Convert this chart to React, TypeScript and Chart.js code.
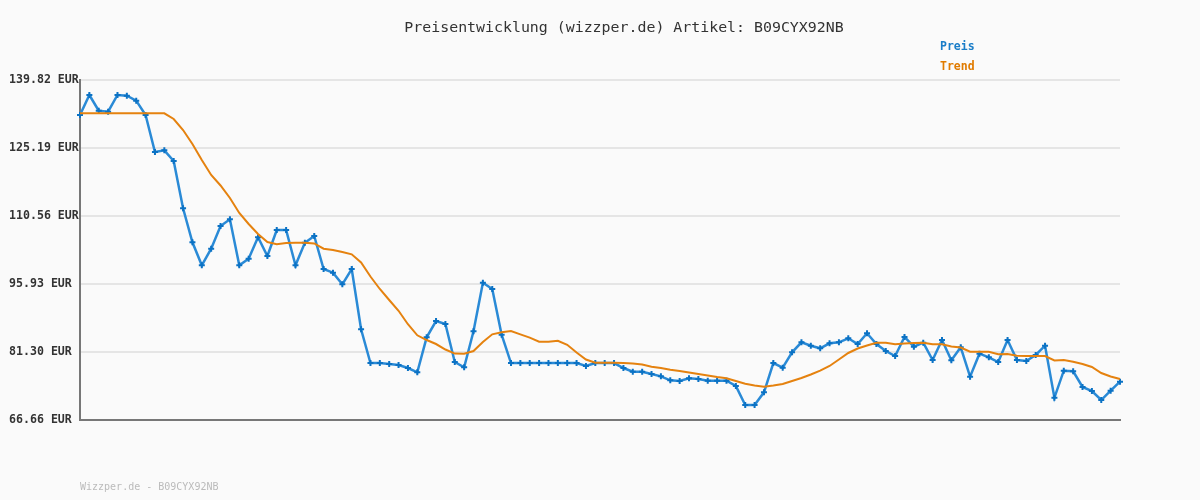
import React, { useEffect, useRef } from "react";
import { Chart, registerables } from "chart.js";

Chart.register(...registerables);

const TITLE = "Preisentwicklung (wizzper.de) Artikel: B09CYX92NB";
const FOOTER = "Wizzper.de - B09CYX92NB";
const LEGEND_LABELS = ["Preis", "Trend"];

const Y_TICKS = [66.66, 81.3, 95.93, 110.56, 125.19, 139.82];
const Y_TICK_LABELS = ["66.66 EUR", "81.30 EUR", "95.93 EUR", "110.56 EUR", "125.19 EUR", "139.82 EUR"];

const PREIS = [
  132.29, 136.59, 133.21, 133.0, 136.59, 136.44, 135.37, 132.29, 124.33, 124.69,
  122.39, 112.21, 104.9, 99.95, 103.52, 108.4, 109.85, 99.95, 101.37, 105.97,
  101.95, 107.54, 107.54, 99.95, 104.81, 106.25, 99.15, 98.36, 95.86, 99.15,
  86.18, 78.92, 78.92, 78.71, 78.49, 77.85, 76.92, 84.45, 87.96, 87.32,
  79.14, 78.0, 85.75, 96.2, 94.85, 85.01, 78.92, 78.92, 78.92, 78.92,
  78.92, 78.92, 78.92, 78.92, 78.28, 78.92, 78.92, 78.92, 77.85, 77.05,
  77.05, 76.56, 76.06, 75.2, 75.05, 75.63, 75.48, 75.12, 75.12, 75.12,
  73.98, 69.89, 69.89, 72.62, 78.92, 77.91, 81.23, 83.38, 82.65, 82.09,
  83.16, 83.38, 84.24, 83.01, 85.32, 83.01, 81.51, 80.43, 84.52, 82.43,
  83.29, 79.57, 83.87, 79.5, 82.3, 75.98, 80.93, 80.15, 79.14, 83.87,
  79.57, 79.36, 80.65, 82.65, 71.46, 77.27, 77.14, 73.76, 72.9, 70.96,
  72.96, 74.9,
];

const TREND = [
  132.66, 132.66, 132.66, 132.66, 132.66, 132.66, 132.66, 132.66, 132.66, 132.66,
  131.43, 129.06, 126.05, 122.61, 119.38, 117.12, 114.43, 111.2, 108.83, 106.68,
  104.96, 104.47, 104.75, 104.81, 104.81, 104.64, 103.52, 103.24, 102.81, 102.31,
  100.55, 97.54, 94.85, 92.48, 90.16, 87.27, 84.89, 83.87, 83.01, 81.83,
  80.95, 80.93, 81.51, 83.44, 85.1, 85.53, 85.81, 85.08, 84.39, 83.51,
  83.51, 83.72, 82.84, 81.18, 79.68, 78.99, 78.99, 78.99, 78.92, 78.82,
  78.6, 78.13, 77.85, 77.48, 77.2, 76.88, 76.56, 76.24, 75.91, 75.63,
  75.05, 74.47, 74.08, 73.83, 74.08, 74.41, 75.05, 75.7, 76.45, 77.27,
  78.28, 79.68, 81.08, 82.04, 82.69, 83.29, 83.29, 82.95, 83.12, 83.23,
  83.29, 82.95, 82.95, 82.48, 82.26, 81.36, 81.36, 81.36, 80.8, 80.86,
  80.5, 80.43, 80.43, 80.43, 79.46, 79.57, 79.21, 78.71, 78.06, 76.77,
  76.02, 75.48,
];

const CATEGORIES = PREIS.map((_, i) => String(i + 1));

const MONO = "'DejaVu Sans Mono', 'Liberation Mono', monospace";
const COLOR_PREIS = "#2a8ad6";
const COLOR_PREIS_POINT = "#0b72c4";
const COLOR_TREND = "#e5820f";
const COLOR_LEGEND_PREIS = "#1a7dc8";
const COLOR_LEGEND_TREND = "#e07b00";

const decor = {
  id: "decor",
  beforeDraw(chart: any) {
    const ctx = chart.ctx;
    ctx.save();
    ctx.fillStyle = "#fafafa";
    ctx.fillRect(0, 0, chart.width, chart.height);
    ctx.restore();
  },
  afterDraw(chart: any) {
    const ctx = chart.ctx;
    ctx.save();
    ctx.textBaseline = "middle";
    ctx.fillStyle = "#333333";
    ctx.font = `14.9px ${MONO}`;
    ctx.textAlign = "center";
    ctx.fillText(TITLE, 624, 28);

    ctx.textAlign = "left";
    ctx.font = `bold 11.5px ${MONO}`;
    ctx.fillStyle = COLOR_LEGEND_PREIS;
    ctx.fillText(LEGEND_LABELS[0], 940, 47);
    ctx.fillStyle = COLOR_LEGEND_TREND;
    ctx.fillText(LEGEND_LABELS[1], 940, 67);

    ctx.font = `10px ${MONO}`;
    ctx.fillStyle = "#bbbbbb";
    ctx.fillText(FOOTER, 80, 487);
    ctx.restore();
  },
};

export default function App() {
  const ref = useRef<HTMLCanvasElement | null>(null);

  useEffect(() => {
    if (!ref.current) return;
    const chart = new Chart(ref.current, {
      type: "line",
      data: {
        labels: CATEGORIES,
        datasets: [
          {
            label: LEGEND_LABELS[0],
            data: PREIS,
            borderColor: COLOR_PREIS,
            borderWidth: 2.5,
            pointStyle: "cross",
            pointRadius: 3,
            pointBorderWidth: 2,
            pointBorderColor: COLOR_PREIS_POINT,
            pointBackgroundColor: COLOR_PREIS_POINT,
            tension: 0,
            order: 1,
          },
          {
            label: LEGEND_LABELS[1],
            data: TREND,
            borderColor: COLOR_TREND,
            borderWidth: 2,
            pointRadius: 0,
            tension: 0,
            order: 0,
          },
        ],
      },
      plugins: [decor],
      options: {
        animation: false,
        responsive: false,
        events: [],
        layout: { padding: { left: 9, top: 80, right: 80, bottom: 80 } },
        plugins: {
          legend: { display: false },
          title: { display: false },
          tooltip: { enabled: false },
        },
        scales: {
          x: {
            type: "category",
            offset: false,
            grid: { display: false, drawTicks: false },
            ticks: { display: false },
            border: { display: true, color: "#777777", width: 2 },
            afterFit: (s: any) => {
              s.height = 0;
            },
          },
          y: {
            min: 66.66,
            max: 139.82,
            afterBuildTicks: (s: any) => {
              s.ticks = Y_TICKS.map((v) => ({ value: v }));
            },
            ticks: {
              callback: (_v: any, i: number) => Y_TICK_LABELS[i],
              font: { family: MONO, size: 11.6, weight: "bold" },
              color: "#333333",
              crossAlign: "far",
              padding: 0,
            },
            grid: { color: "#e5e5e5", lineWidth: 2, drawTicks: false },
            border: { display: true, color: "#777777", width: 2 },
            afterFit: (s: any) => {
              s.width = 71;
            },
          },
        },
      },
    } as any);
    return () => chart.destroy();
  }, []);

  return (
    <div style={{ position: "fixed", left: 0, top: 0, width: 1200, height: 500 }}>
      <canvas ref={ref} width={1200} height={500} style={{ display: "block" }} />
    </div>
  );
}
